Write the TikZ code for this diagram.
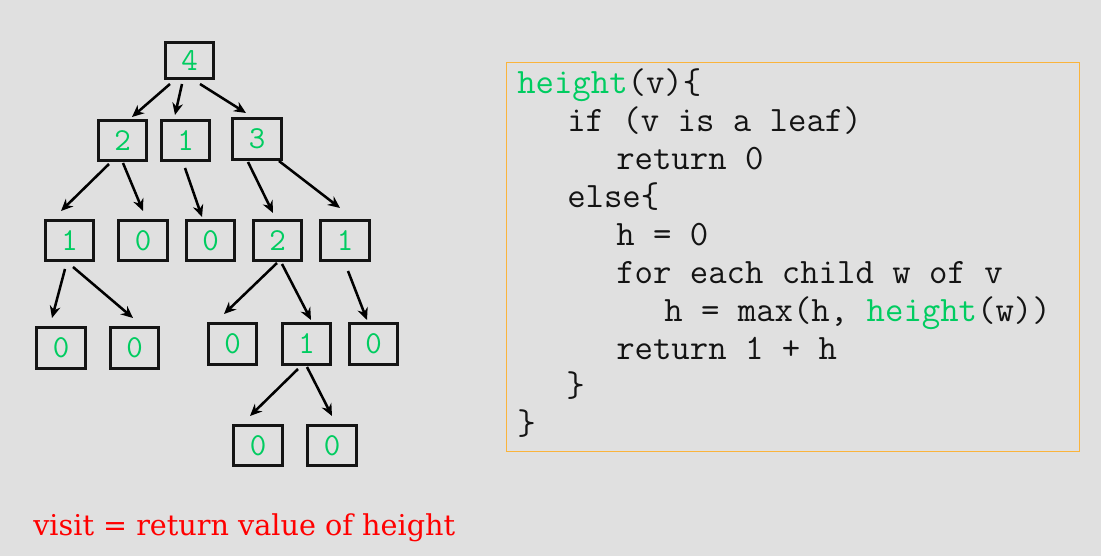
\documentclass[tikz,border=0pt]{standalone}
\usepackage{fontspec}
\newfontfamily\notefont{DejaVu Serif}
\usetikzlibrary{calc,arrows.meta}
\definecolor{bg}{RGB}{224,224,224}
\definecolor{vgreen}{RGB}{0,204,96}
\definecolor{codeorange}{RGB}{250,180,60}
\definecolor{ink}{RGB}{20,20,20}
\begin{document}
\begin{tikzpicture}[x=0.75pt,y=-0.75pt,
  tbox/.style={draw=ink,line width=2.1pt,minimum width=36.5pt,minimum height=30.5pt,
    inner sep=0pt,font=\ttfamily\fontsize{24}{24}\selectfont,text=vgreen},
  rootbox/.style={tbox,minimum height=27.5pt},
  arr/.style={draw=black,line width=1.9pt,-{Stealth[length=9pt,width=8pt]}},
  codeline/.style={anchor=base west,inner sep=0pt,text=ink,font=\ttfamily\fontsize{26.8}{30}\selectfont},
  codebox/.style={draw=codeorange,line width=0.9pt,minimum width=429.75pt,minimum height=291.75pt,inner sep=0pt}
]
\fill[bg] (0,0) rectangle (1101,556);
\useasboundingbox (0,0) rectangle (1101,556);

% tree nodes
\node[rootbox] (r) at (189.5,60.5) {4};
\node[tbox] (a) at (122.5,140.5) {2};
\node[tbox] (b) at (185.5,140.5) {1};
\node[tbox] (c) at (257,139) {3};
\node[tbox] (d) at (69.5,240.5) {1};
\node[tbox] (e) at (143,240.5) {0};
\node[tbox] (f) at (210.5,240.5) {0};
\node[tbox] (g) at (277.5,240.5) {2};
\node[tbox] (h) at (345,240.5) {1};
\node[tbox] (i) at (61,348) {0};
\node[tbox] (j) at (134.5,348) {0};
\node[tbox] (k) at (232.5,344) {0};
\node[tbox] (l) at (306.5,344) {1};
\node[tbox] (m) at (373.5,344) {0};
\node[tbox] (n) at (258,445.5) {0};
\node[tbox] (o) at (332,445.5) {0};

% connectors
\draw[arr] ($(r)+(-19.5,23.5)$) -- ($(a)+(9.5,-23.5)$);
\draw[arr] ($(r)+(-7.5,23.5)$) -- ($(b)+(-10.5,-25.5)$);
\draw[arr] ($(r)+(10.5,23.5)$) -- ($(c)+(-11,-26)$);
\draw[arr] ($(a)+(-13.5,23.5)$) -- ($(d)+(-8.5,-29.5)$);
\draw[arr] ($(a)+(0.5,22.5)$) -- ($(e)+(0,-29.5)$);
\draw[arr] ($(b)+(-0.5,27.5)$) -- ($(f)+(-8.5,-23.5)$);
\draw[arr] ($(c)+(-9,23)$) -- ($(g)+(-4.5,-27.5)$);
\draw[arr] ($(c)+(22,22)$) -- ($(h)+(-5,-32.5)$);
\draw[arr] ($(d)+(-4.5,28.5)$) -- ($(i)+(-9,-30)$);
\draw[arr] ($(d)+(3.5,26.5)$) -- ($(j)+(-1.5,-30)$);
\draw[arr] ($(g)+(-0.5,22.5)$) -- ($(k)+(-8.5,-30)$);
\draw[arr] ($(g)+(4.5,23.5)$) -- ($(l)+(4.5,-24)$);
\draw[arr] ($(h)+(3,30.5)$) -- ($(m)+(-6.5,-24)$);
\draw[arr] ($(l)+(-8.5,25)$) -- ($(n)+(-8,-29.5)$);
\draw[arr] ($(l)+(0.5,23)$) -- ($(o)+(0,-29.5)$);

% code box
\node[codebox] (code) at (793,257) {};
\node[codeline] (c0) at (517,94) {\textcolor{vgreen}{height}(v)\{};
\node[codeline] (c1) at (567,132) {if (v is a leaf)};
\node[codeline] (c2) at (616,170) {return 0};
\node[codeline] (c3) at (567,208) {else\{};
\node[codeline] (c4) at (616,246) {h = 0};
\node[codeline] (c5) at (616,284) {for each child w of v};
\node[codeline] (c6) at (664,322) {h = max(h, \textcolor{vgreen}{height}(w))};
\node[codeline] (c7) at (616,359) {return 1 + h};
\node[codeline] (c8) at (566,397) {\}};
\node[codeline] (c9) at (517,434) {\}};

% note
\node[anchor=base west,inner sep=0pt,text=red,font=\notefont\fontsize{21.5}{24}\selectfont] (note) at (33,535) {visit = return value of height};
\end{tikzpicture}
\end{document}
